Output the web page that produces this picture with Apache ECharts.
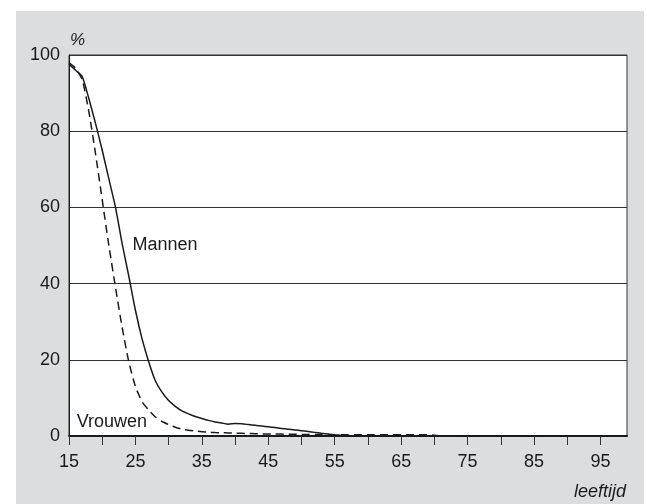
<!DOCTYPE html>
<html lang="nl">
<head>
    <meta charset="UTF-8">
    <title>Leeftijd</title>
    <style>
        html, body { margin: 0; padding: 0; background: #fff; }
        #chart-container { width: 647px; height: 504px; }
    </style>
</head>
<body>
    <div id="chart-container"></div>
    <script src="https://cdn.jsdelivr.net/npm/echarts@6/dist/echarts.min.js"></script>
    <script>
        // leeftijden 15 t/m 99
        const ages = [];
        for (let a = 15; a <= 99; a++) ages.push(String(a));

        const yTicks = [0, 20, 40, 60, 80, 100];

        // percentage per leeftijd
        const mannen = [
            97.6, 96.0, 94.3, 88.5, 82.0, 75.0, 67.5, 60.0, 50.5, 42.0,
            33.0, 25.5, 19.5, 14.5, 11.5, 9.3, 7.8, 6.6, 5.8, 5.1,
            4.6, 4.1, 3.7, 3.4, 3.1, 3.3, 3.2, 3.0, 2.8, 2.6,
            2.4, 2.2, 2.0, 1.8, 1.6, 1.4, 1.2, 0.95, 0.7, 0.5,
            0.3, 0.15, 0.1, 0.05, 0, 0, 0, 0, 0, 0,
            0, 0, 0, 0, 0, 0, 0, 0, 0, 0,
            0, 0, 0, 0, 0, 0, 0, 0, 0, 0,
            0, 0, 0, 0, 0, 0, 0, 0, 0, 0,
            0, 0, 0, 0, 0
        ];
        const vrouwen = [
            98.0, 96.5, 93.5, 85.0, 74.0, 62.0, 50.0, 39.0, 28.5, 19.5,
            13.0, 9.0, 6.8, 5.0, 3.8, 3.0, 2.3, 1.8, 1.5, 1.3,
            1.1, 1.0, 0.9, 0.85, 0.8, 0.75, 0.7, 0.65, 0.6, 0.55,
            0.5, 0.5, 0.5, 0.45, 0.45, 0.4, 0.4, 0.4, 0.35, 0.35,
            0.3, 0.3, 0.3, 0.3, 0.3, 0.3, 0.3, 0.3, 0.3, 0.3,
            0.3, 0.3, 0.3, 0.3, 0.3, 0.2, 0, 0, 0, 0,
            0, 0, 0, 0, 0, 0, 0, 0, 0, 0,
            0, 0, 0, 0, 0, 0, 0, 0, 0, 0,
            0, 0, 0, 0, 0
        ];

        const font = 'Liberation Sans, Arial, sans-serif';
        const ink = '#1a1a1a';

        var dom = document.getElementById('chart-container');
        var myChart = echarts.init(dom, null, { renderer: 'canvas' });

        var option = {
            animation: false,
            backgroundColor: '#fff',
            textStyle: { fontFamily: font },
            graphic: [
                {
                    type: 'rect', z: -10, silent: true,
                    shape: { x: 16, y: 11, width: 628, height: 493 },
                    style: { fill: '#dcdddf' }
                },
                {
                    type: 'text', left: 70, top: 32,
                    style: { text: '%', font: 'italic 17px ' + font, fill: ink }
                },
                {
                    type: 'text', right: 21, top: 483,
                    style: { text: 'leeftijd', font: 'italic 18px ' + font, fill: ink }
                }
            ],
            grid: {
                left: 69, right: 20, top: 55, bottom: 68,
                show: true, backgroundColor: '#fff',
                borderColor: '#333', borderWidth: 1
            },
            xAxis: {
                type: 'category',
                data: ages,
                boundaryGap: false,
                axisLine: { lineStyle: { color: ink, width: 2 } },
                axisTick: {
                    interval: function (i) { return i % 5 === 0; },
                    length: 9,
                    lineStyle: { color: '#333', width: 1 }
                },
                axisLabel: {
                    interval: function (i) { return i % 10 === 0; },
                    margin: 17,
                    fontSize: 18,
                    color: ink
                },
                splitLine: { show: false }
            },
            yAxis: {
                type: 'value',
                min: 0, max: 100, interval: 20,
                axisLine: { show: true, lineStyle: { color: ink, width: 1 } },
                axisTick: { show: false },
                axisLabel: {
                    margin: 9, fontSize: 18, color: ink,
                    formatter: function (v) { return yTicks.indexOf(v) >= 0 ? String(v) : ''; }
                },
                splitLine: { lineStyle: { color: '#333', width: 1 } }
            },
            series: [
                {
                    name: 'Mannen',
                    type: 'line',
                    data: mannen,
                    symbol: 'none',
                    smooth: 0.2,
                    lineStyle: { color: ink, width: 1.5 },
                    markPoint: {
                        symbol: 'circle', symbolSize: 0,
                        label: {
                            show: true, position: 'right', distance: 0, offset: [-3, 0],
                            formatter: 'Mannen', fontSize: 18, color: ink
                        },
                        data: [{ coord: ['25', 50] }]
                    }
                },
                {
                    name: 'Vrouwen',
                    type: 'line',
                    data: vrouwen,
                    symbol: 'none',
                    smooth: 0.2,
                    lineStyle: { color: ink, width: 1.5, type: [8, 5] },
                    markPoint: {
                        symbol: 'circle', symbolSize: 0,
                        label: {
                            show: true, position: 'right', distance: 0, offset: [1, 1],
                            formatter: 'Vrouwen', fontSize: 18, color: ink
                        },
                        data: [{ coord: ['16', 3.8] }]
                    }
                }
            ]
        };

        myChart.setOption(option);
        window.addEventListener('resize', myChart.resize);
    </script>
</body>
</html>
